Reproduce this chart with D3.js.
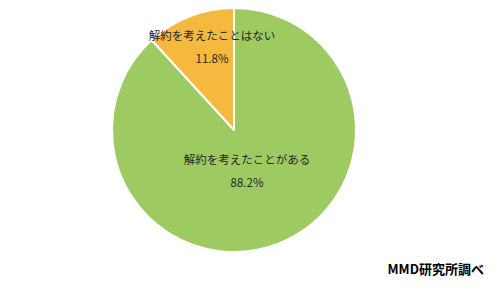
<!DOCTYPE html>
<html>
<head>
<meta charset="utf-8">
<script src="https://cdn.jsdelivr.net/npm/d3@7"></script>
<style>
  html, body { margin: 0; padding: 0; background: #fff; }
  svg { display: block; }
</style>
</head>
<body>
<svg id="chart" width="500" height="293"></svg>
<script>
// Survey answers (share of respondents, %)
const categories = ["解約を考えたことがある", "解約を考えたことはない"];
const values = [88.2, 11.8];
const valueLabels = ["88.2%", "11.8%"];
const colors = ["#9ecb61", "#f6b940"];
const source = "MMD研究所調べ";

const svg = d3.select("#chart");
const cx = 234, cy = 130, r = 122;
const font = "'Noto Sans CJK JP', 'Noto Sans', sans-serif";

// Clockwise from 12 o'clock: the large slice first, the small one closes at the top
const pie = d3.pie().sort(null).value(d => d.value);

const data = categories.map((c, i) => ({ name: c, value: values[i], label: valueLabels[i], color: colors[i] }));
const arcs = pie(data);
const arc = d3.arc().innerRadius(0).outerRadius(r);

const g = svg.append("g").attr("transform", `translate(${cx},${cy})`);
g.selectAll("path").data(arcs).join("path")
  .attr("d", arc)
  .attr("fill", d => d.data.color)
  .attr("stroke", "#fff")
  .attr("stroke-width", 2)
  .attr("stroke-linejoin", "round");

// Data labels inside each slice
const labelPos = [
  { dx: 13, dy: 34 },
  { dx: -22, dy: -90 }
];
arcs.forEach((a, i) => {
  const x = labelPos[i].dx, y = labelPos[i].dy;
  const t = g.append("text")
    .attr("text-anchor", "middle")
    .attr("font-family", font)
    .attr("font-size", 11.5)
    .attr("fill", "#262626");
  t.append("tspan").attr("x", x).attr("y", y).text(a.data.name);
  t.append("tspan").attr("x", x).attr("y", y + 23).text(a.data.label);
});

svg.append("text")
  .attr("x", 484).attr("y", 274)
  .attr("text-anchor", "end")
  .attr("font-family", font)
  .attr("font-size", 13)
  .attr("font-weight", "bold")
  .attr("fill", "#000")
  .text(source);
</script>
</body>
</html>
